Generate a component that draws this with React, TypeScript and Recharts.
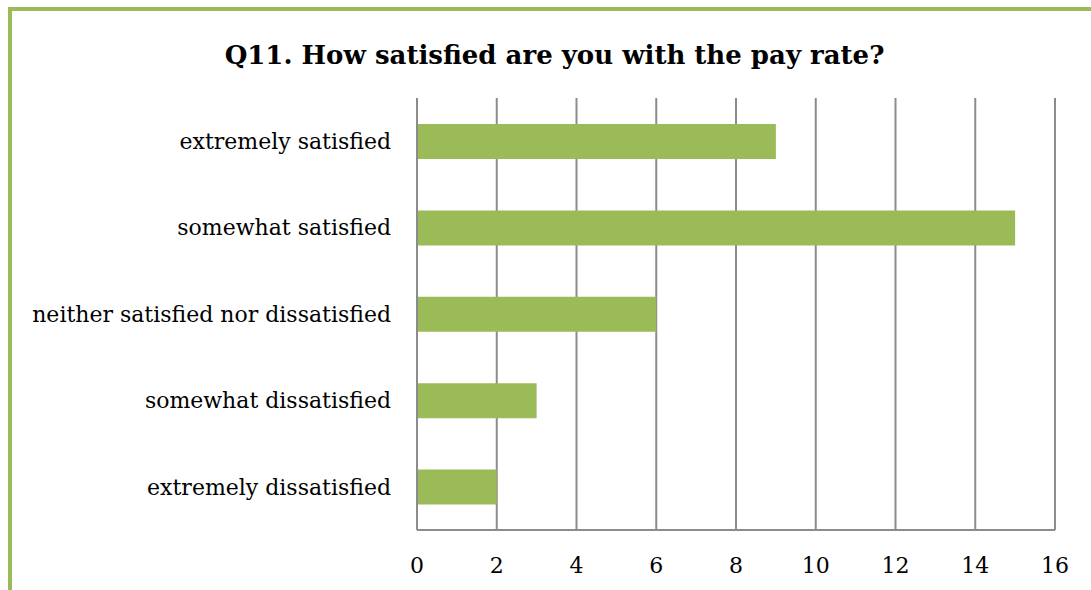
import React from "react";
import { BarChart, Bar, XAxis, YAxis, CartesianGrid } from "recharts";

const categories = [
  "extremely satisfied",
  "somewhat satisfied",
  "neither satisfied nor dissatisfied",
  "somewhat dissatisfied",
  "extremely dissatisfied",
];
const counts = [9, 15, 6, 3, 2];
const xTicks = [0, 2, 4, 6, 8, 10, 12, 14, 16];
const title = "Q11. How satisfied are you with the pay rate?";

const data = categories.map((c, i) => ({ name: c, value: counts[i] }));

const FONT = "'DejaVu Serif', 'Liberation Serif', serif";

export default function App() {
  return (
    <div
      style={{
        position: "absolute",
        left: 0,
        top: 0,
        width: 1091,
        height: 590,
        background: "#fff",
        overflow: "hidden",
        fontFamily: FONT,
      }}
    >
      <div
        style={{
          position: "absolute",
          left: 8,
          top: 7,
          width: 1200,
          height: 700,
          borderLeft: "4px solid #9BBB59",
          borderTop: "4px solid #9BBB59",
          boxSizing: "border-box",
        }}
      />
      <div
        style={{
          position: "absolute",
          left: 0,
          top: 36,
          width: 1109,
          textAlign: "center",
          fontWeight: "bold",
          fontSize: 26,
          lineHeight: "38px",
          color: "#000",
        }}
      >
        {title}
      </div>
      <div style={{ position: "absolute", left: 0, top: 0 }}>
        <BarChart
          width={1091}
          height={590}
          data={data}
          layout="vertical"
          margin={{ top: 98, right: 36, bottom: 0, left: 0 }}
          barSize={35}
        >
          <CartesianGrid horizontal={false} stroke="#8c8c8c" strokeWidth={2} />
          <XAxis
            type="number"
            domain={[0, 16]}
            ticks={xTicks}
            interval={0}
            height={60}
            tickLine={false}
            tickSize={0}
            tickMargin={27}
            axisLine={{ stroke: "#8c8c8c", strokeWidth: 2 }}
            tick={{ fill: "#000", fontSize: 22, fontFamily: FONT }}
          />
          <YAxis
            type="category"
            dataKey="name"
            width={417}
            tickLine={false}
            tickSize={0}
            tickMargin={26}
            axisLine={{ stroke: "#8c8c8c", strokeWidth: 2 }}
            tick={{ fill: "#000", fontSize: 22, fontFamily: FONT }}
          />
          <Bar dataKey="value" fill="#9BBB59" isAnimationActive={false} />
        </BarChart>
      </div>
    </div>
  );
}
